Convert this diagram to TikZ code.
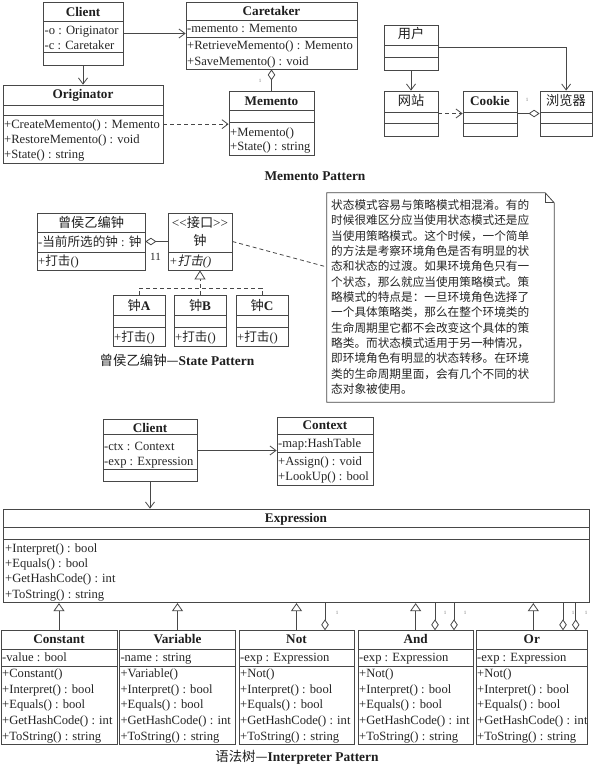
\documentclass[tikz,border=0pt]{standalone}
\usepackage{fontspec}
\setmainfont{Liberation Serif}
\newfontfamily\cjk{Noto Sans CJK SC}
\newfontfamily\cjkit[FakeSlant=0.2]{Noto Sans CJK SC}
\usetikzlibrary{arrows.meta,fit,calc}
\newcommand{\umlbox}[5]{\node[clsbox, fit={(#2,#3) (#4,#5)}] (#1) {};}
\newcommand{\cdiv}[3]{\draw[lc] (#1,#3) -- (#2,#3);}
\newcommand{\mline}[4]{\node[mtxt] (#1) at (#2,{#3+4.4}) {#4};}
\newcommand{\mtitle}[4]{\node[ttl] (#1) at (#2,{#3+4.6}) {#4};}
\begin{document}
\begin{tikzpicture}[x=1pt,y=-1pt,
  lc/.style={draw=black!72, line width=0.8pt},
  clsbox/.style={lc, inner sep=0pt},
  mtxt/.style={anchor=base west, inner sep=0pt, font=\fontsize{12.6}{15}\selectfont, text=black!85},
  ttl/.style={anchor=base, inner sep=0pt, font=\bfseries\fontsize{13.2}{15}\selectfont, text=black!88},
  capt/.style={anchor=base, inner sep=0pt, font=\fontsize{13.4}{15}\selectfont, text=black!88},
  assoc/.style={lc, -{Straight Barb[length=6pt,width=9pt]}},
  dep/.style={lc, dash pattern=on 4pt off 3pt, -{Straight Barb[length=6pt,width=9pt]}},
  dsh/.style={lc, dash pattern=on 4pt off 3pt},
  gen/.style={lc, -{Triangle[length=8pt,width=11pt,fill=white]}},
  rgen/.style={dsh, -{Triangle[length=9pt,width=11pt,fill=white]}},
  aggr/.style={lc, {Diamond[length=11pt,width=7.5pt,fill=white]}-},
  mult/.style={inner sep=0pt, font=\fontsize{5}{5}\selectfont, text=black!55}
]
\fill[white] (0,0) rectangle (593,768);
\useasboundingbox (0,0) rectangle (593,768);

% ===== Memento pattern =====
\umlbox{mcl}{43}{2}{123}{65}
\mtitle{mclT}{83}{12}{Client}
\cdiv{43}{123}{21.7}\cdiv{43}{123}{52.3}
\mline{mclA}{44.5}{30.5}{-o : Originator}
\mline{mclB}{44.5}{45}{-c : Caretaker}

\umlbox{orig}{3}{85}{163}{163.3}
\mtitle{origT}{83}{94}{Originator}
\cdiv{3}{163}{105}\cdiv{3}{163}{115}
\mline{origA}{4}{124.3}{+CreateMemento() : Memento}
\mline{origB}{4}{139.3}{+RestoreMemento() : void}
\mline{origC}{4}{154.3}{+State() : string}

\umlbox{care}{186}{2}{357}{69}
\mtitle{careT}{271.5}{10.5}{Caretaker}
\cdiv{186}{357}{20.7}\cdiv{186}{357}{37.5}
\mline{careA}{187}{28.5}{-memento : Memento}
\mline{careB}{187}{45}{+RetrieveMemento() : Memento}
\mline{careC}{187}{61}{+SaveMemento() : void}

\umlbox{mem}{229}{91.7}{314}{155}
\mtitle{memT}{271.5}{101}{Memento}
\cdiv{229}{314}{110}\cdiv{229}{314}{122.7}
\mline{memA}{230}{131.7}{+Memento()}
\mline{memB}{230}{145.7}{+State() : string}

\draw[assoc] (mcl.east) -- (mcl.east -| care.west);
\draw[assoc] (mcl.south) -- (mcl.south |- orig.north);
\draw[dep] (orig.east) -- (orig.east -| mem.west);
\draw[aggr] (care.south) -- (care.south |- mem.north);
\node[mult] (m1) at (260,81) {1};

\node[capt] (cap1) at (315,{176+4.6}) {\textbf{Memento Pattern}};

% ===== browser / cookie =====
\umlbox{user}{384}{25}{438}{70}
\mtitle{userT}{411}{34}{\mdseries\cjk 用户}
\cdiv{384}{438}{45}\cdiv{384}{438}{57.7}

\umlbox{site}{384}{91}{438}{136}
\mtitle{siteT}{411}{100.7}{\mdseries\cjk 网站}
\cdiv{384}{438}{112}\cdiv{384}{438}{123}

\umlbox{cookie}{463}{91}{517}{136}
\mtitle{cookieT}{490}{100.7}{Cookie}
\cdiv{463}{517}{112}\cdiv{463}{517}{123}

\umlbox{brow}{540}{91}{592.3}{136}
\mtitle{browT}{566}{100.7}{\mdseries\cjk 浏览器}
\cdiv{540}{592.3}{112}\cdiv{540}{592.3}{123}

\draw[assoc] (user.south) -- (user.south |- site.north);
\draw[assoc] (user.east) -| (brow.north);
\draw[dep] (site.east) -- (site.east -| cookie.west);
\draw[aggr] (brow.west) -- (brow.west -| cookie.east);
\node[mult] (m2) at (527,100) {1};

% ===== State pattern =====
\umlbox{bell}{37}{213}{145}{270}
\mtitle{bellT}{91}{222.7}{\mdseries\cjk 曾侯乙编钟}
\cdiv{37}{145}{232}\cdiv{37}{145}{252}
\mline{bellA}{38}{242}{-{\cjk 当前所选的钟} : {\cjk 钟}}
\mline{bellB}{38}{261}{+{\cjk 打击}()}

\umlbox{zhong}{168}{213}{232}{270}
\mtitle{zhongS}{200}{223}{\mdseries {<}{<}{\cjk 接口}{>}{>}}
\mtitle{zhongT}{200}{241}{\mdseries\cjk 钟}
\cdiv{168}{232}{252}
\mline{zhongA}{169}{261}{\textit{+}{\cjkit 打击}\textit{()}}

\draw[aggr] (bell.east) -- (bell.east -| zhong.west);
\node[inner sep=0pt, font=\fontsize{11}{12}\selectfont, text=black!85] (m11) at (155.5,257) {11};

\umlbox{za}{113}{295}{165}{346.7}
\mtitle{zaT}{139}{305.5}{{\mdseries\cjk 钟}A}
\cdiv{113}{165}{315}\cdiv{113}{165}{327.7}
\mline{zaA}{114}{336.7}{+{\cjk 打击}()}

\umlbox{zb}{174}{295}{226}{346.7}
\mtitle{zbT}{200}{305.5}{{\mdseries\cjk 钟}B}
\cdiv{174}{226}{315}\cdiv{174}{226}{327.7}
\mline{zbA}{175}{336.7}{+{\cjk 打击}()}

\umlbox{zc}{236}{295}{288}{346.7}
\mtitle{zcT}{262}{305.5}{{\mdseries\cjk 钟}C}
\cdiv{236}{288}{315}\cdiv{236}{288}{327.7}
\mline{zcA}{237}{336.7}{+{\cjk 打击}()}

\coordinate (rj) at (200,288);
\draw[dsh] (za.north) |- (rj) -| (zc.north);
\draw[rgen] (zb.north) -- (zb.north |- zhong.south);

\node[capt] (cap2) at (177,{361+4.6}) {{\cjk 曾侯乙编钟—}\textbf{State Pattern}};

% note
\node[inner sep=0pt, fit={(327,193) (554,402)}] (note) {};
\draw[lc] (note.north west) -- ([xshift=-9pt]note.north east) -- ([yshift=-10pt]note.north east) -- (note.south east) -- (note.south west) -- cycle;
\draw[lc] ([xshift=-9pt]note.north east) -- ++(0,10) -- ([yshift=-10pt]note.north east);
\node[anchor=north west, inner sep=0pt, align=left, font=\cjk\fontsize{11.65}{15.33}\selectfont, text=black!85] (notetext) at (331,199.5) {%
状态模式容易与策略模式相混淆。有的\\
时候很难区分应当使用状态模式还是应\\
当使用策略模式。这个时候，一个简单\\
的方法是考察环境角色是否有明显的状\\
态和状态的过渡。如果环境角色只有一\\
个状态，那么就应当使用策略模式。策\\
略模式的特点是：一旦环境角色选择了\\
一个具体策略类，那么在整个环境类的\\
生命周期里它都不会改变这个具体的策\\
略类。而状态模式适用于另一种情况，\\
即环境角色有明显的状态转移。在环境\\
类的生命周期里面，会有几个不同的状\\
态对象被使用。};
\coordinate (nl) at (327,267);
\draw[dsh] (zhong.east) -- (nl);

% ===== Interpreter pattern =====
\umlbox{icl}{103}{419.3}{197}{481.7}
\mtitle{iclT}{150}{427.7}{Client}
\cdiv{103}{197}{434.3}\cdiv{103}{197}{469.3}
\mline{iclA}{104}{446}{-ctx : Context}
\mline{iclB}{104}{461}{-exp : Expression}

\umlbox{ctx}{277}{417.3}{373}{485}
\mtitle{ctxT}{325}{425.3}{Context}
\cdiv{277}{373}{434.3}\cdiv{277}{373}{452.7}
\mline{ctxA}{278}{442.7}{-map:HashTable}
\mline{ctxB}{278}{461}{+Assign() : void}
\mline{ctxC}{278}{476}{+LookUp() : bool}

\draw[assoc] (icl.east) -- (icl.east -| ctx.west);

\umlbox{expr}{3.8}{509}{589.5}{602.7}
\mtitle{exprT}{296}{518}{Expression}
\cdiv{3.8}{589.5}{527.7}\cdiv{3.8}{589.5}{539.3}
\mline{exprA}{5}{548.3}{+Interpret() : bool}
\mline{exprB}{5}{563.3}{+Equals() : bool}
\mline{exprC}{5}{578.3}{+GetHashCode() : int}
\mline{exprD}{5}{594}{+ToString() : string}

\draw[assoc] (icl.south) -- (icl.south |- expr.north);

% Constant
\umlbox{con}{1}{630.7}{117}{744}
\mtitle{conT}{59}{639.3}{Constant}
\cdiv{1}{117}{649.3}\cdiv{1}{117}{666.7}
\mline{conA}{2}{656.7}{-value : bool}
\mline{conB}{2}{673.3}{+Constant()}
\mline{conC}{2}{689.3}{+Interpret() : bool}
\mline{conD}{2}{704.3}{+Equals() : bool}
\mline{conE}{2}{720}{+GetHashCode() : int}
\mline{conF}{2}{735.7}{+ToString() : string}

% Variable
\umlbox{var}{119.3}{630.7}{235.7}{744}
\mtitle{varT}{177.5}{639.3}{Variable}
\cdiv{119.3}{235.7}{649.3}\cdiv{119.3}{235.7}{666.7}
\mline{varA}{120.3}{656.7}{-name : string}
\mline{varB}{120.3}{673.3}{+Variable()}
\mline{varC}{120.3}{689.3}{+Interpret() : bool}
\mline{varD}{120.3}{704.3}{+Equals() : bool}
\mline{varE}{120.3}{720}{+GetHashCode() : int}
\mline{varF}{120.3}{735.7}{+ToString() : string}

% Not
\umlbox{not}{239}{630.7}{354}{744}
\mtitle{notT}{296.5}{639.3}{Not}
\cdiv{239}{354}{649.3}\cdiv{239}{354}{666.7}
\mline{notA}{240}{656.7}{-exp : Expression}
\mline{notB}{240}{673.3}{+Not()}
\mline{notC}{240}{689.3}{+Interpret() : bool}
\mline{notD}{240}{704.3}{+Equals() : bool}
\mline{notE}{240}{720}{+GetHashCode() : int}
\mline{notF}{240}{735.7}{+ToString() : string}

% And
\umlbox{and}{358}{630.7}{473.3}{744}
\mtitle{andT}{415.7}{639.3}{And}
\cdiv{358}{473.3}{649.3}\cdiv{358}{473.3}{666.7}
\mline{andA}{359}{656.7}{-exp : Expression}
\mline{andB}{359}{673.3}{+Not()}
\mline{andC}{359}{689.3}{+Interpret() : bool}
\mline{andD}{359}{704.3}{+Equals() : bool}
\mline{andE}{359}{720}{+GetHashCode() : int}
\mline{andF}{359}{735.7}{+ToString() : string}

% Or
\umlbox{or}{476}{630.7}{587.7}{744}
\mtitle{orT}{531.8}{639.3}{Or}
\cdiv{476}{587.7}{649.3}\cdiv{476}{587.7}{666.7}
\mline{orA}{477}{656.7}{-exp : Expression}
\mline{orB}{477}{673.3}{+Not()}
\mline{orC}{477}{689.3}{+Interpret() : bool}
\mline{orD}{477}{704.3}{+Equals() : bool}
\mline{orE}{477}{720}{+GetHashCode() : int}
\mline{orF}{477}{735.7}{+ToString() : string}

% generalizations
\draw[gen] (con.north) -- (con.north |- expr.south);
\draw[gen] (var.north) -- (var.north |- expr.south);
\draw[gen] (not.north) -- (not.north |- expr.south);
\draw[gen] (and.north) -- (and.north |- expr.south);
\coordinate (gO) at (533.3,0);
\draw[gen] (gO |- or.north) -- (gO |- expr.south);

% aggregations
\coordinate (aN) at (325,0);
\coordinate (aA1) at (435,0);
\coordinate (aA2) at (454,0);
\coordinate (aO1) at (563,0);
\coordinate (aO2) at (575.7,0);
\draw[aggr] (aN |- not.north) -- (aN |- expr.south);
\draw[aggr] (aA1 |- and.north) -- (aA1 |- expr.south);
\draw[aggr] (aA2 |- and.north) -- (aA2 |- expr.south);
\draw[aggr] (aO1 |- or.north) -- (aO1 |- expr.south);
\draw[aggr] (aO2 |- or.north) -- (aO2 |- expr.south);
\node[mult] (m3) at (337,613) {1};
\node[mult] (m4) at (445,613) {1};
\node[mult] (m5) at (465,613) {1};
\node[mult] (m6) at (573,613) {1};
\node[mult] (m7) at (586,613) {1};

\node[capt] (cap3) at (297,{757+4.6}) {{\cjk 语法树—}\textbf{Interpreter Pattern}};
\end{tikzpicture}
\end{document}
